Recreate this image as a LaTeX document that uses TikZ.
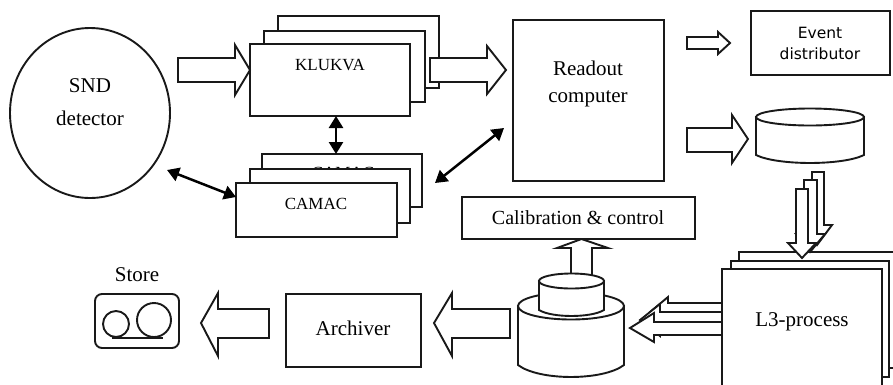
\documentclass[tikz,border=0pt]{standalone}
\usepackage{fontspec}
\setmainfont{Liberation Serif}
\newfontfamily\dejavu{DejaVu Sans}
\usetikzlibrary{arrows.meta,shapes.geometric}
\tikzset{
  x=1pt,y=-1pt,
  ln/.style={draw=black!90,line width=1.9pt,line join=miter,fill=white},
  blk/.style={ln,miter limit=10},
  dbl/.style={draw=black,line width=2.5pt,{Stealth[length=12pt,width=14pt,inset=0pt]}-{Stealth[length=12pt,width=14pt,inset=0pt]}},
  lbl/.style={font=\fontsize{21}{24}\selectfont,inner sep=0pt,anchor=base},
  slbl/.style={font=\fontsize{17}{20}\selectfont,inner sep=0pt,anchor=base},
  elbl/.style={font=\dejavu\fontsize{15.5}{21}\selectfont,inner sep=0pt,anchor=base},
}
% box: name, x1, y1, x2, y2
\newcommand{\rbox}[5]{\node[ln,inner sep=0pt,outer sep=0pt,rectangle,minimum width={(#4-#2)*1pt},minimum height={(#5-#3)*1pt}] (#1) at ({(#2+#4)/2},{(#3+#5)/2}) {};}
% horizontal block arrow: x tail, y1, y2 tail, x head base, y1, y2 head, x tip, y tip
\newcommand{\barrow}[8]{\draw[blk] (#1,#2) -- (#4,#2) -- (#4,#5) -- (#7,#8) -- (#4,#6) -- (#4,#3) -- (#1,#3) -- cycle;}
% vertical block arrow: x1,x2 tail, y tail, y base, xh1,xh2, xtip, ytip
\newcommand{\varrow}[8]{\draw[blk] (#1,#3) -- (#1,#4) -- (#5,#4) -- (#7,#8) -- (#6,#4) -- (#2,#4) -- (#2,#3) -- cycle;}
% cylinder: x1,x2, y centre top, ry, y side end, bottom bulge
\newcommand{\cyl}[6]{\draw[ln] (#1,#3) -- (#1,#5) .. controls (#1+0.2*#2-0.2*#1,{#5+1.33*#6}) and (#2-0.2*#2+0.2*#1,{#5+1.33*#6}) .. (#2,#5) -- (#2,#3) -- cycle;
 \draw[ln] ({(#1+#2)/2},#3) ellipse [x radius={(#2-#1)/2*1pt},y radius=#4pt];}
\begin{document}
\begin{tikzpicture}
\useasboundingbox (0,0) rectangle (893,384);
\clip (0,0) rectangle (893,384);
% SND
\node[ln,ellipse,minimum width=160pt,minimum height=170pt,inner sep=0pt,outer sep=0pt] (snd) at (90,113) {};
\node[lbl] (sndt) at (90,92) {SND};
\node[lbl] (sndd) at (90,125) {detector};
% KLUKVA stack
\rbox{klukvac}{278}{16}{439}{88}
\rbox{klukvab}{264}{31}{425}{102}
\rbox{klukva}{250}{44}{410}{116}
\node[slbl] (klukvat) at (330,70) {KLUKVA};
% CAMAC stack
\rbox{camacc}{262}{154}{422}{207}
\node[slbl] (camact) at (343,178.5) {CAMAC};
\rbox{camacb}{250}{169}{410}{223}
\rbox{camac}{236}{183}{397}{237}
\node[slbl] (camacl) at (316,209) {CAMAC};
% Readout
\rbox{readout}{513}{20}{664}{181}
\node[lbl] (rt) at (588,75) {Readout};
\node[lbl] (rc) at (588,102) {computer};
% Event distributor
\rbox{event}{751}{11}{890}{75}
\node[elbl] (eventt) at (820,38) {Event};
\node[elbl] (eventd) at (820,59) {distributor};
% Calibration
\rbox{calib}{462}{197}{695}{239}
\node[inner sep=0pt,anchor=base,font=\fontsize{20}{24}\selectfont] (calibt) at (578,224) {Calibration \& control};
% Archiver
\rbox{arch}{286}{294}{421}{367}
\node[lbl] (archt) at (353,335) {Archiver};
% L3 stack
\rbox{lc}{739}{252}{905}{368}
\rbox{lb}{731}{261}{889}{377}
\rbox{la}{722}{269}{882}{394}
\node[lbl] (lt) at (802,326) {L3-process};
% block arrows
\barrow{178}{58}{82}{235}{45}{95}{250}{70}
\barrow{430}{58}{82}{487}{46}{94}{506}{70}
\barrow{687}{37}{49}{718}{32}{54}{730}{43}
\barrow{687}{128}{152}{732}{115}{163}{748}{139}
\barrow{269}{309}{338}{218}{293}{356}{201}{323}
\barrow{510}{309}{338}{452}{293}{356}{434}{323}
% disc
\cyl{756}{864}{117}{8.5}{155}{8}
% down arrows
\varrow{812}{824}{172}{225}{804}{832}{817}{245}
\varrow{804}{817}{180}{234}{796}{825}{810}{252}
\varrow{796}{808}{189}{243}{788}{816}{802}{258}
% left arrows from L3
\barrow{722}{303}{325}{668}{297}{331}{650}{312}
\barrow{722}{312}{330}{660}{304}{336}{640}{320}
\barrow{722}{322}{335}{654}{313}{342}{630}{328}
% stacked cylinders
\cyl{518}{624}{306}{13.5}{365}{12}
\varrow{571}{592}{276}{248}{557}{608}{581.5}{239}
\cyl{539}{604}{281}{7.5}{310}{6}
% Store
\node[lbl] (storet) at (137,281) {Store};
\node[ln,rectangle,rounded corners=7pt,minimum width=84pt,minimum height=54pt,inner sep=0pt,outer sep=0pt] (store) at (137,321) {};
\node[ln,circle,minimum size=26pt,inner sep=0pt] (reela) at (116,324) {};
\node[ln,circle,minimum size=34pt,inner sep=0pt] (reelb) at (154,320) {};
\draw[ln] ([xshift=-4pt]reela.south) -- ([xshift=9pt]reelb.south);
% double arrows
\draw[dbl] ([xshift=6pt]klukva.south) -- ([xshift=-6pt]camacc.north);
\coordinate (sa) at (167,170);
\draw[dbl] (sa) -- ([yshift=40pt]camac.south west);
\coordinate (ra) at (504,128);
\coordinate (rb) at (435,183);
\draw[dbl] (rb) -- (ra);
\end{tikzpicture}
\end{document}
